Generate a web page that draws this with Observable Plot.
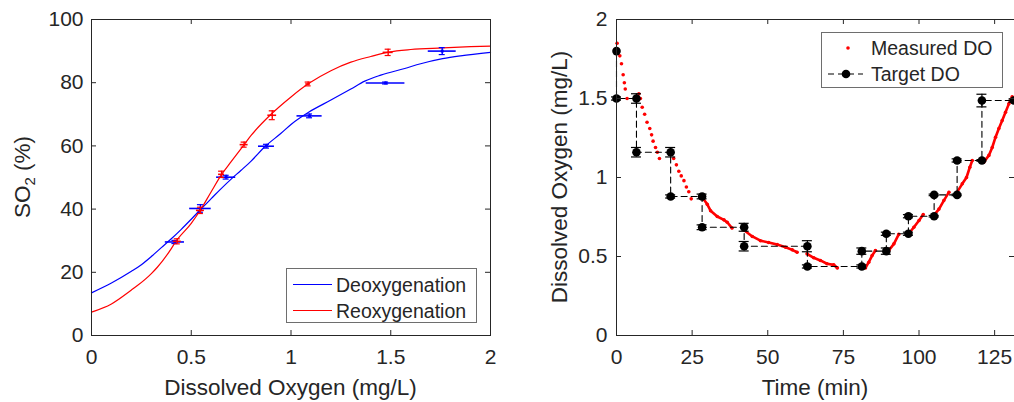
<!DOCTYPE html>
<html>
<head>
<meta charset="utf-8">
<script src="https://cdn.jsdelivr.net/npm/d3@7"></script>
<script src="https://cdn.jsdelivr.net/npm/@observablehq/plot@0.6"></script>
<style>
  html, body { margin: 0; padding: 0; background: #fff; }
  #wrap { position: relative; width: 1014px; height: 402px; overflow: hidden; font-family: "Liberation Sans", Arial, sans-serif; }
  #wrap > svg, #wrap > div { position: absolute; top: 0; }
  #left { left: 0; }
  #right { left: 500px; }
  #overlay { left: 0; top: 0; pointer-events: none; }
</style>
</head>
<body>
<div id="wrap">
  <div id="left"></div>
  <div id="right"></div>
</div>
<script>
// ---------- Left chart data: SO2 vs dissolved oxygen ----------
const deoxCurveX = [0, 0.1, 0.2, 0.25, 0.3, 0.35, 0.4, 0.45, 0.5, 0.55, 0.6, 0.65, 0.7, 0.75, 0.8, 0.87, 0.95, 1.0, 1.09, 1.2, 1.3, 1.37, 1.45, 1.57, 1.65, 1.76, 1.85, 2.0];
const deoxCurveY = [13.5, 16.6, 20.3, 22.4, 25.0, 27.8, 30.6, 33.6, 36.8, 40.1, 43.3, 46.5, 49.5, 52.3, 55.2, 59.8, 64.0, 66.8, 70.7, 74.5, 78.0, 80.5, 82.4, 84.5, 86.0, 87.6, 88.5, 89.6];
const reoxCurveX = [0, 0.1, 0.2, 0.23, 0.3, 0.33, 0.4, 0.42, 0.5, 0.55, 0.6, 0.655, 0.7, 0.765, 0.8, 0.9, 1.0, 1.09, 1.2, 1.3, 1.4, 1.49, 1.6, 1.76, 1.9, 2.0];
const reoxCurveY = [7.4, 10.0, 14.4, 15.8, 19.6, 21.6, 27.5, 29.5, 35.5, 40.1, 45.5, 51.2, 55.0, 60.4, 63.3, 70.0, 75.5, 79.8, 83.8, 86.5, 88.3, 89.7, 90.5, 91.0, 91.4, 91.6];

const deoxPtX = [0.418, 0.546, 0.675, 0.877, 1.093, 1.474, 1.758];
const deoxPtY = [29.6, 40.2, 50.1, 59.9, 69.5, 79.9, 90.0];
const deoxErrX = [0.048, 0.054, 0.048, 0.04, 0.063, 0.097, 0.07];
const deoxErrY = [0.5, 1.2, 0.6, 0.6, 0.6, 0.3, 1.1];

const reoxPtX = [0.43, 0.546, 0.652, 0.765, 0.906, 1.086, 1.487];
const reoxPtY = [29.8, 39.6, 51.0, 60.4, 69.7, 79.6, 89.6];
const reoxErrX = [0.02, 0.02, 0.015, 0.02, 0.022, 0.012, 0.025];
const reoxErrY = [0.8, 1.0, 1.0, 0.8, 1.4, 0.6, 1.0];

const leftXTicks = [0, 0.5, 1, 1.5, 2];
const leftYTicks = [0, 20, 40, 60, 80, 100];

// ---------- Right chart data: DO vs time ----------
const targetTime = [0, 0, 6.6, 6.6, 17.9, 17.9, 28.3, 28.3, 42.2, 42.2, 63.1, 63.1, 81.1, 81.1, 89.2, 89.2, 96.5, 96.5, 105, 105, 112.6, 112.6, 120.8, 120.8, 131.4];
const targetDO   = [1.80, 1.50, 1.50, 1.16, 1.16, 0.88, 0.88, 0.685, 0.685, 0.565, 0.565, 0.437, 0.437, 0.534, 0.534, 0.644, 0.644, 0.755, 0.755, 0.89, 0.89, 1.108, 1.108, 1.487, 1.487];
const targetErr  = [0, 0.01, 0.03, 0.03, 0.03, 0.01, 0.015, 0.015, 0.025, 0.03, 0.035, 0.01, 0.01, 0.02, 0.02, 0.01, 0.01, 0.01, 0.005, 0.005, 0.005, 0.01, 0.005, 0.04, 0.01];

const measuredTime = [0.2, 1.1, 1.65, 2.2, 2.6, 2.9, 3.5,
  7.4, 7.9, 8.5, 9.3, 10.1, 11.0, 11.6, 12.1, 12.9, 13.5, 14.2,
  18.9, 19.8, 20.6, 21.4, 22.3, 23.1, 23.9, 24.7,
  28.7, 30.0, 31.1, 33.3, 35.5, 36.6, 38.2,
  42.1, 44.9, 47.6, 50.3, 53.1, 55.9, 58.1, 59.7,
  63.0, 65.2, 67.4, 69.6, 71.8, 73.0,
  82.3, 83.4, 84.5, 85.6,
  90.0, 91.7, 93.3,
  96.6, 98.3, 100.0, 101.4,
  104.9, 106.6, 108.2, 109.9,
  112.6, 114.3, 115.7, 116.8, 117.6,
  121.4, 123.1, 124.2, 125.3, 126.4, 127.5, 128.6, 129.7, 130.8];
const measuredDO = [1.85, 1.77, 1.72, 1.65, 1.60, 1.56, 1.50,
  1.53, 1.50, 1.445, 1.40, 1.35, 1.31, 1.27, 1.23, 1.19, 1.16, 1.12,
  1.12, 1.08, 1.04, 1.01, 0.98, 0.94, 0.91, 0.865,
  0.865, 0.83, 0.79, 0.753, 0.732, 0.717, 0.68,
  0.668, 0.627, 0.60, 0.589, 0.576, 0.559, 0.542, 0.527,
  0.517, 0.492, 0.475, 0.454, 0.447, 0.428,
  0.428, 0.464, 0.506, 0.538,
  0.538, 0.58, 0.64,
  0.644, 0.685, 0.728, 0.766,
  0.76, 0.80, 0.854, 0.907,
  0.907, 0.96, 1.00, 1.065, 1.107,
  1.097, 1.14, 1.19, 1.255, 1.31, 1.36, 1.413, 1.466, 1.51];
const measuredSeg = [1,1,1,1,1,1,1,
  2,2,2,2,2,2,2,2,2,2,2,
  3,3,3,3,3,3,3,3,
  4,4,4,4,4,4,4,
  5,5,5,5,5,5,5,5,
  6,6,6,6,6,6,
  7,7,7,7,
  8,8,8,
  9,9,9,9,
  10,10,10,10,
  11,11,11,11,11,
  12,12,12,12,12,12,12,12,12,12];

const rightXTicks = [0, 25, 50, 75, 100, 125];
const rightYTicks = [0, 0.5, 1, 1.5, 2];

// ---------- build ----------
const INK = "#262626";
const FONT = "'Liberation Sans', Arial, sans-serif";
const H = 402, MT = 19, MB = 67;
const innerH = H - MT - MB;

function inwardTicks(xt, yt, innerW) {
  return [
    Plot.ruleX(xt, {x: d => d, insetTop: innerH - 5, stroke: INK, strokeWidth: 1}),
    Plot.ruleX(xt, {x: d => d, insetBottom: innerH - 5, stroke: INK, strokeWidth: 1}),
    Plot.ruleY(yt, {y: d => d, insetRight: innerW - 5, stroke: INK, strokeWidth: 1}),
    Plot.ruleY(yt, {y: d => d, insetLeft: innerW - 5, stroke: INK, strokeWidth: 1})
  ];
}

const fmt = d => String(d);

// Left
const deoxCurve = deoxCurveX.map((x, i) => ({x, y: deoxCurveY[i]}));
const reoxCurve = reoxCurveX.map((x, i) => ({x, y: reoxCurveY[i]}));
const deoxPts = deoxPtX.map((x, i) => ({x, y: deoxPtY[i], ex: deoxErrX[i], ey: deoxErrY[i]}));
const reoxPts = reoxPtX.map((x, i) => ({x, y: reoxPtY[i], ex: reoxErrX[i], ey: reoxErrY[i]}));

const LW = 500, LML = 91, LMR = 10;
const leftPlot = Plot.plot({
  width: LW, height: H, marginLeft: LML, marginRight: LMR, marginTop: MT, marginBottom: MB,
  x: {domain: [0, 2]},
  y: {domain: [0, 100]},
  style: {fontFamily: FONT, fontSize: "21px", color: INK, background: "transparent", overflow: "visible"},
  marks: [
    Plot.line(deoxCurve, {x: "x", y: "y", stroke: "#0000ff", strokeWidth: 1.2, curve: "monotone-x"}),
    Plot.line(reoxCurve, {x: "x", y: "y", stroke: "#ff0000", strokeWidth: 1.2, curve: "monotone-x"}),
    // deoxygenation error bars
    Plot.ruleY(deoxPts, {y: "y", x1: d => d.x - d.ex, x2: d => d.x + d.ex, stroke: "#0000ff", strokeWidth: 1.6}),
    Plot.ruleX(deoxPts, {x: "x", y1: d => d.y - d.ey, y2: d => d.y + d.ey, stroke: "#0000ff", strokeWidth: 1.4}),
    Plot.ruleY(deoxPts, {y: d => d.y + d.ey, x1: "x", x2: "x", insetLeft: -3, insetRight: -3, stroke: "#0000ff", strokeWidth: 1.2}),
    Plot.ruleY(deoxPts, {y: d => d.y - d.ey, x1: "x", x2: "x", insetLeft: -3, insetRight: -3, stroke: "#0000ff", strokeWidth: 1.2}),
    Plot.dot(deoxPts, {x: "x", y: "y", r: 1.6, fill: "#0000ff", symbol: "square"}),
    // reoxygenation error bars
    Plot.ruleY(reoxPts, {y: "y", x1: d => d.x - d.ex, x2: d => d.x + d.ex, stroke: "#ff0000", strokeWidth: 1.6}),
    Plot.ruleX(reoxPts, {x: "x", y1: d => d.y - d.ey, y2: d => d.y + d.ey, stroke: "#ff0000", strokeWidth: 1.4}),
    Plot.ruleY(reoxPts, {y: d => d.y + d.ey, x1: "x", x2: "x", insetLeft: -3, insetRight: -3, stroke: "#ff0000", strokeWidth: 1.2}),
    Plot.ruleY(reoxPts, {y: d => d.y - d.ey, x1: "x", x2: "x", insetLeft: -3, insetRight: -3, stroke: "#ff0000", strokeWidth: 1.2}),
    Plot.frame({stroke: INK, strokeWidth: 1}),
    ...inwardTicks(leftXTicks, leftYTicks, LW - LML - LMR),
    Plot.axisX({ticks: leftXTicks, tickSize: 0, tickPadding: 14, tickFormat: fmt, label: null, fill: INK}),
    Plot.axisY({ticks: leftYTicks, tickSize: 0, tickPadding: 8, tickFormat: fmt, label: null, fill: INK})
  ]
});
document.getElementById("left").appendChild(leftPlot);

// Right
const target = targetTime.map((t, i) => ({t, v: targetDO[i], e: targetErr[i]}));
const targetE = target.filter(d => d.e > 0);
const measured = measuredTime.map((t, i) => ({t, v: measuredDO[i], seg: measuredSeg[i]}));
const measuredDense = measured.filter(d => d.seg >= 4);

const RW = 514, RML = 116, RMR = 0;
const rightPlot = Plot.plot({
  width: RW, height: H, marginLeft: RML, marginRight: RMR, marginTop: MT, marginBottom: MB,
  x: {domain: [0, 131.57]},
  y: {domain: [0, 2]},
  style: {fontFamily: FONT, fontSize: "21px", color: INK, background: "transparent", overflow: "visible"},
  marks: [
    Plot.line(measuredDense, {x: "t", y: "v", z: "seg", stroke: "#ff0000", strokeWidth: 2.6, strokeLinecap: "round"}),
    Plot.dot(measured, {x: "t", y: "v", r: 1.8, fill: "#ff0000"}),
    Plot.line(target, {x: "t", y: "v", stroke: "#000", strokeWidth: 1.1, strokeDasharray: "6,4"}),
    Plot.ruleX(targetE, {x: "t", y1: d => d.v - d.e, y2: d => d.v + d.e, stroke: "#000", strokeWidth: 1.2}),
    Plot.ruleY(targetE, {y: d => d.v + d.e, x1: "t", x2: "t", insetLeft: -5, insetRight: -5, stroke: "#000", strokeWidth: 1.2}),
    Plot.ruleY(targetE, {y: d => d.v - d.e, x1: "t", x2: "t", insetLeft: -5, insetRight: -5, stroke: "#000", strokeWidth: 1.2}),
    Plot.dot(target, {x: "t", y: "v", r: 4.3, fill: "#000"}),
    Plot.frame({stroke: INK, strokeWidth: 1}),
    ...inwardTicks(rightXTicks, rightYTicks, RW - RML - RMR),
    Plot.axisX({ticks: rightXTicks, tickSize: 0, tickPadding: 14, tickFormat: fmt, label: null, fill: INK}),
    Plot.axisY({ticks: rightYTicks, tickSize: 0, tickPadding: 9, tickFormat: fmt, label: null, fill: INK})
  ]
});
document.getElementById("right").appendChild(rightPlot);

// ---------- overlay: axis titles and legends ----------
const ov = d3.select("#wrap").append("svg")
  .attr("id", "overlay").attr("width", 1014).attr("height", 402)
  .style("position", "absolute").style("left", "0px").style("top", "0px")
  .attr("font-family", FONT).attr("fill", INK);

// axis titles
ov.append("text").attr("x", 290.5).attr("y", 395).attr("text-anchor", "middle").attr("font-size", 22.5)
  .text("Dissolved Oxygen (mg/L)");
const so = ov.append("text").attr("transform", "translate(30,177) rotate(-90)").attr("text-anchor", "middle").attr("font-size", 22.5);
so.append("tspan").text("SO");
so.append("tspan").attr("font-size", 15).attr("dy", 5).text("2");
so.append("tspan").attr("dy", -5).text(" (%)");

ov.append("text").attr("x", 815).attr("y", 395).attr("text-anchor", "middle").attr("font-size", 22.5)
  .text("Time (min)");
ov.append("text").attr("transform", "translate(567,177) rotate(-90)").attr("text-anchor", "middle").attr("font-size", 22.5)
  .text("Dissolved Oxygen (mg/L)");

// left legend
const lg = ov.append("g");
lg.append("rect").attr("x", 286.5).attr("y", 268.5).attr("width", 190).attr("height", 54)
  .attr("fill", "#fff").attr("stroke", "#6e6e6e").attr("stroke-width", 1);
lg.append("line").attr("x1", 293).attr("x2", 332).attr("y1", 284.5).attr("y2", 284.5).attr("stroke", "#0000ff").attr("stroke-width", 1.2);
lg.append("line").attr("x1", 293).attr("x2", 332).attr("y1", 310.5).attr("y2", 310.5).attr("stroke", "#ff0000").attr("stroke-width", 1.2);
lg.append("text").attr("x", 336).attr("y", 291.5).attr("font-size", 19.5).text("Deoxygenation");
lg.append("text").attr("x", 336).attr("y", 317.5).attr("font-size", 19.5).text("Reoxygenation");

// right legend
const rg = ov.append("g");
rg.append("rect").attr("x", 821.5).attr("y", 32.5).attr("width", 181).attr("height", 55)
  .attr("fill", "#fff").attr("stroke", "#6e6e6e").attr("stroke-width", 1);
rg.append("circle").attr("cx", 848).attr("cy", 48).attr("r", 1.8).attr("fill", "#ff0000");
rg.append("line").attr("x1", 828).attr("x2", 863).attr("y1", 74).attr("y2", 74).attr("stroke", "#000").attr("stroke-width", 1.1).attr("stroke-dasharray", "6,4");
rg.append("circle").attr("cx", 846).attr("cy", 74).attr("r", 4.3).attr("fill", "#000");
rg.append("text").attr("x", 871).attr("y", 55).attr("font-size", 19.5).text("Measured DO");
rg.append("text").attr("x", 871).attr("y", 81).attr("font-size", 19.5).text("Target DO");
</script>
</body>
</html>
